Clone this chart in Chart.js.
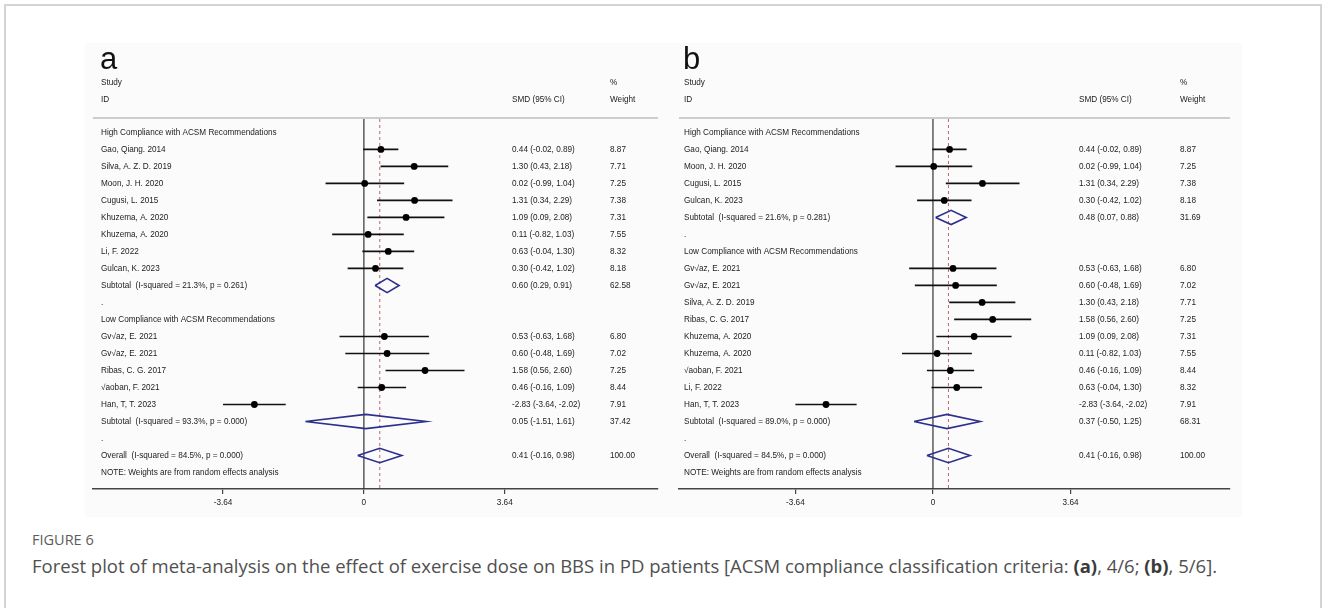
<!DOCTYPE html>
<html>
<head>
<meta charset="utf-8">
<script src="https://cdn.jsdelivr.net/npm/chart.js@4.4.1/dist/chart.umd.min.js"></script>
<style>
  html, body { margin: 0; padding: 0; background: #fff; }
  body { width: 1326px; height: 608px; position: relative; overflow: hidden; }
  #frame { position: absolute; left: 4px; top: 4px; width: 1318px; height: 700px; border: 2px solid #d4d4d4; box-sizing: border-box; }
  #plotbg { position: absolute; left: 85px; top: 43px; width: 1157px; height: 474px; background: #fbfbfb; }
  canvas { position: absolute; top: 0; }
  #panelA { left: 0; }
  #panelB { left: 663px; }
  #figno { position: absolute; left: 32px; top: 530px; font: 14.5px "Open Sans", Lato, sans-serif; color: #5c5c5c; }
  #caption { position: absolute; left: 32px; top: 553px; font: 18.5px "Open Sans", Lato, sans-serif; color: #505050; white-space: nowrap; }
  #caption b { color: #3a3a3a; }
</style>
</head>
<body>
<div id="frame"></div>
<div id="plotbg"></div>
<canvas id="panelA" width="663" height="530"></canvas>
<canvas id="panelB" width="663" height="530"></canvas>
<div id="figno">FIGURE 6</div>
<div id="caption">Forest plot of meta-analysis on the effect of exercise dose on BBS in PD patients [ACSM compliance classification criteria: <b>(a)</b>, 4/6; <b>(b)</b>, 5/6].</div>

<script>
// shared labels
const groupLabels = ['High Compliance with ACSM Recommendations', 'Low Compliance with ACSM Recommendations'];
const overallLabel = 'Overall  (I-squared = 84.5%, p = 0.000)';
const overallSmd = 0.41;
const overallLower = -0.16;
const overallUpper = 0.98;
const overallWeight = 100.00;
const noteText = 'NOTE: Weights are from random effects analysis';
const tickValues = [-3.64, 0, 3.64];

// panel a (ACSM 4/6)
const namesA = ['Gao, Qiang. 2014', 'Silva, A. Z. D. 2019', 'Moon, J. H. 2020', 'Cugusi, L. 2015',
  'Khuzema, A. 2020', 'Khuzema, A. 2020', 'Li, F. 2022', 'Gulcan, K. 2023',
  'Gv√az, E. 2021', 'Gv√az, E. 2021', 'Ribas, C. G. 2017', '√aoban, F. 2021', 'Han, T, T. 2023'];
const groupA = [0, 0, 0, 0, 0, 0, 0, 0, 1, 1, 1, 1, 1];
const smdA = [0.44, 1.30, 0.02, 1.31, 1.09, 0.11, 0.63, 0.30, 0.53, 0.60, 1.58, 0.46, -2.83];
const lowerA = [-0.02, 0.43, -0.99, 0.34, 0.09, -0.82, -0.04, -0.42, -0.63, -0.48, 0.56, -0.16, -3.64];
const upperA = [0.89, 2.18, 1.04, 2.29, 2.08, 1.03, 1.30, 1.02, 1.68, 1.69, 2.60, 1.09, -2.02];
const weightA = [8.87, 7.71, 7.25, 7.38, 7.31, 7.55, 8.32, 8.18, 6.80, 7.02, 7.25, 8.44, 7.91];
const subLabelsA = ['Subtotal  (I-squared = 21.3%, p = 0.261)', 'Subtotal  (I-squared = 93.3%, p = 0.000)'];
const subSmdA = [0.60, 0.05];
const subLowerA = [0.29, -1.51];
const subUpperA = [0.91, 1.61];
const subWeightA = [62.58, 37.42];

// panel b (ACSM 5/6)
const namesB = ['Gao, Qiang. 2014', 'Moon, J. H. 2020', 'Cugusi, L. 2015', 'Gulcan, K. 2023',
  'Gv√az, E. 2021', 'Gv√az, E. 2021', 'Silva, A. Z. D. 2019', 'Ribas, C. G. 2017', 'Khuzema, A. 2020',
  'Khuzema, A. 2020', '√aoban, F. 2021', 'Li, F. 2022', 'Han, T, T. 2023'];
const groupB = [0, 0, 0, 0, 1, 1, 1, 1, 1, 1, 1, 1, 1];
const smdB = [0.44, 0.02, 1.31, 0.30, 0.53, 0.60, 1.30, 1.58, 1.09, 0.11, 0.46, 0.63, -2.83];
const lowerB = [-0.02, -0.99, 0.34, -0.42, -0.63, -0.48, 0.43, 0.56, 0.09, -0.82, -0.16, -0.04, -3.64];
const upperB = [0.89, 1.04, 2.29, 1.02, 1.68, 1.69, 2.18, 2.60, 2.08, 1.03, 1.09, 1.30, -2.02];
const weightB = [8.87, 7.25, 7.38, 8.18, 6.80, 7.02, 7.71, 7.25, 7.31, 7.55, 8.44, 8.32, 7.91];
const subLabelsB = ['Subtotal  (I-squared = 21.6%, p = 0.281)', 'Subtotal  (I-squared = 89.0%, p = 0.000)'];
const subSmdB = [0.48, 0.37];
const subLowerB = [0.07, -0.50];
const subUpperB = [0.88, 1.25];
const subWeightB = [31.69, 68.31];

const FONT = '"Liberation Sans", Arial, sans-serif';
const TEXT_SIZE = 8.2;
const DIAMOND_HALF = 0.42; // in rows

function buildRows(names, group, smd, lower, upper, weight, subLabels, subSmd, subLower, subUpper, subWeight) {
  const rows = [];
  for (let g = 0; g < 2; g++) {
    rows.push({ kind: 'head', label: groupLabels[g] });
    names.forEach((n, i) => {
      if (group[i] === g) {
        rows.push({ kind: 'study', label: n, smd: smd[i], lo: lower[i], hi: upper[i], wt: weight[i] });
      }
    });
    rows.push({ kind: 'sub', label: subLabels[g], smd: subSmd[g], lo: subLower[g], hi: subUpper[g], wt: subWeight[g] });
    rows.push({ kind: 'dot', label: '.' });
  }
  rows.push({ kind: 'sub', label: overallLabel, smd: overallSmd, lo: overallLower, hi: overallUpper, wt: overallWeight });
  rows.push({ kind: 'note', label: noteText });
  return rows;
}

// text columns, header and top rule drawn against the chart's scales
const tablePlugin = {
  id: 'forestTable',
  afterDraw(chart) {
    const { ctx, chartArea } = chart;
    const y = chart.scales.y;
    const o = chart.options.plugins.forestTable;
    ctx.save();
    ctx.strokeStyle = '#cdcdcd';
    ctx.lineWidth = 2;
    ctx.beginPath();
    ctx.moveTo(chartArea.left, chartArea.top - 1);
    ctx.lineTo(chartArea.right, chartArea.top - 1);
    ctx.stroke();

    ctx.fillStyle = '#111';
    ctx.font = '31px ' + FONT;
    ctx.textBaseline = 'alphabetic';
    ctx.fillText(o.letter, o.textX - 1, 69);

    ctx.fillStyle = '#222';
    ctx.font = TEXT_SIZE + 'px ' + FONT;
    ctx.textBaseline = 'middle';
    ctx.fillText('Study', o.textX, chartArea.top - 36);
    ctx.fillText('ID', o.textX, chartArea.top - 19);
    ctx.fillText('SMD (95% CI)', o.smdX, chartArea.top - 19);
    ctx.fillText('%', o.wtX, chartArea.top - 36);
    ctx.fillText('Weight', o.wtX, chartArea.top - 19);

    o.rows.forEach((r, i) => {
      const py = y.getPixelForValue(i);
      ctx.fillText(r.label, o.textX, py);
      if (r.kind === 'study' || r.kind === 'sub') {
        ctx.fillText(r.smd.toFixed(2) + ' (' + r.lo.toFixed(2) + ', ' + r.hi.toFixed(2) + ')', o.smdX, py);
        ctx.fillText(r.wt.toFixed(2), o.wtX, py);
      }
    });
    ctx.restore();
  }
};

function makePanel(id, letter, rows, geom) {
  const yMin = -0.79, yMax = 20.97;
  const ci = [], pts = [], dia = [];
  rows.forEach((r, i) => {
    if (r.kind === 'study') {
      ci.push({ x: r.lo, y: i }, { x: r.hi, y: i }, { x: r.hi, y: null });
      pts.push({ x: r.smd, y: i });
    } else if (r.kind === 'sub') {
      dia.push({ x: r.lo, y: i }, { x: r.smd, y: i - DIAMOND_HALF }, { x: r.hi, y: i },
        { x: r.smd, y: i + DIAMOND_HALF }, { x: r.lo, y: i }, { x: r.lo, y: null });
    }
  });

  return new Chart(document.getElementById(id), {
    type: 'scatter',
    data: {
      datasets: [
        { data: [{ x: 0, y: yMin }, { x: 0, y: yMax }], showLine: true, borderColor: '#333', borderWidth: 1.2, pointRadius: 0, order: 5 },
        { data: [{ x: overallSmd, y: yMin }, { x: overallSmd, y: yMax }], showLine: true, borderColor: '#b86a6a', borderWidth: 1, borderDash: [3, 3], pointRadius: 0, order: 4 },
        { data: ci, showLine: true, spanGaps: false, borderColor: '#111', borderWidth: 1.7, pointRadius: 0, order: 3 },
        { data: pts, backgroundColor: '#000', borderColor: '#000', pointRadius: 3.4, borderWidth: 0, order: 2 },
        { data: dia, showLine: true, spanGaps: false, borderColor: '#2d2f8c', borderWidth: 1.6, borderJoinStyle: 'miter', pointRadius: 0, order: 1 }
      ]
    },
    options: {
      responsive: false,
      animation: false,
      events: [],
      layout: { padding: { left: geom.padLeft, right: geom.padRight, top: 119, bottom: 21 } },
      scales: {
        x: {
          type: 'linear',
          min: geom.xMin,
          max: geom.xMax,
          afterBuildTicks: s => { s.ticks = tickValues.map(v => ({ value: v })); },
          afterFit: s => { s.height = 20; },
          grid: { drawOnChartArea: false, drawTicks: true, tickLength: 5, color: '#444', lineWidth: 1.2 },
          border: { display: true, color: '#444', width: 1.5 },
          ticks: {
            font: { family: FONT, size: TEXT_SIZE },
            color: '#222',
            padding: 4,
            maxRotation: 0,
            minRotation: 0,
            autoSkip: false,
            callback: v => String(v)
          }
        },
        y: { type: 'linear', min: yMin, max: yMax, reverse: true, display: false }
      },
      plugins: {
        legend: { display: false },
        tooltip: { enabled: false },
        forestTable: { letter: letter, rows: rows, textX: geom.textX, smdX: geom.smdX, wtX: geom.wtX }
      }
    },
    plugins: [tablePlugin]
  });
}

const rowsA = buildRows(namesA, groupA, smdA, lowerA, upperA, weightA, subLabelsA, subSmdA, subLowerA, subUpperA, subWeightA);
const rowsB = buildRows(namesB, groupB, smdB, lowerB, upperB, weightB, subLabelsB, subSmdB, subLowerB, subUpperB, subWeightB);

makePanel('panelA', 'a', rowsA, { padLeft: 93, padRight: 5, xMin: -7.0, xMax: 7.6, textX: 101, smdX: 512, wtX: 610 });
makePanel('panelB', 'b', rowsB, { padLeft: 16, padRight: 96, xMin: -6.72, xMax: 7.86, textX: 21, smdX: 416, wtX: 517 });
</script>
</body>
</html>
